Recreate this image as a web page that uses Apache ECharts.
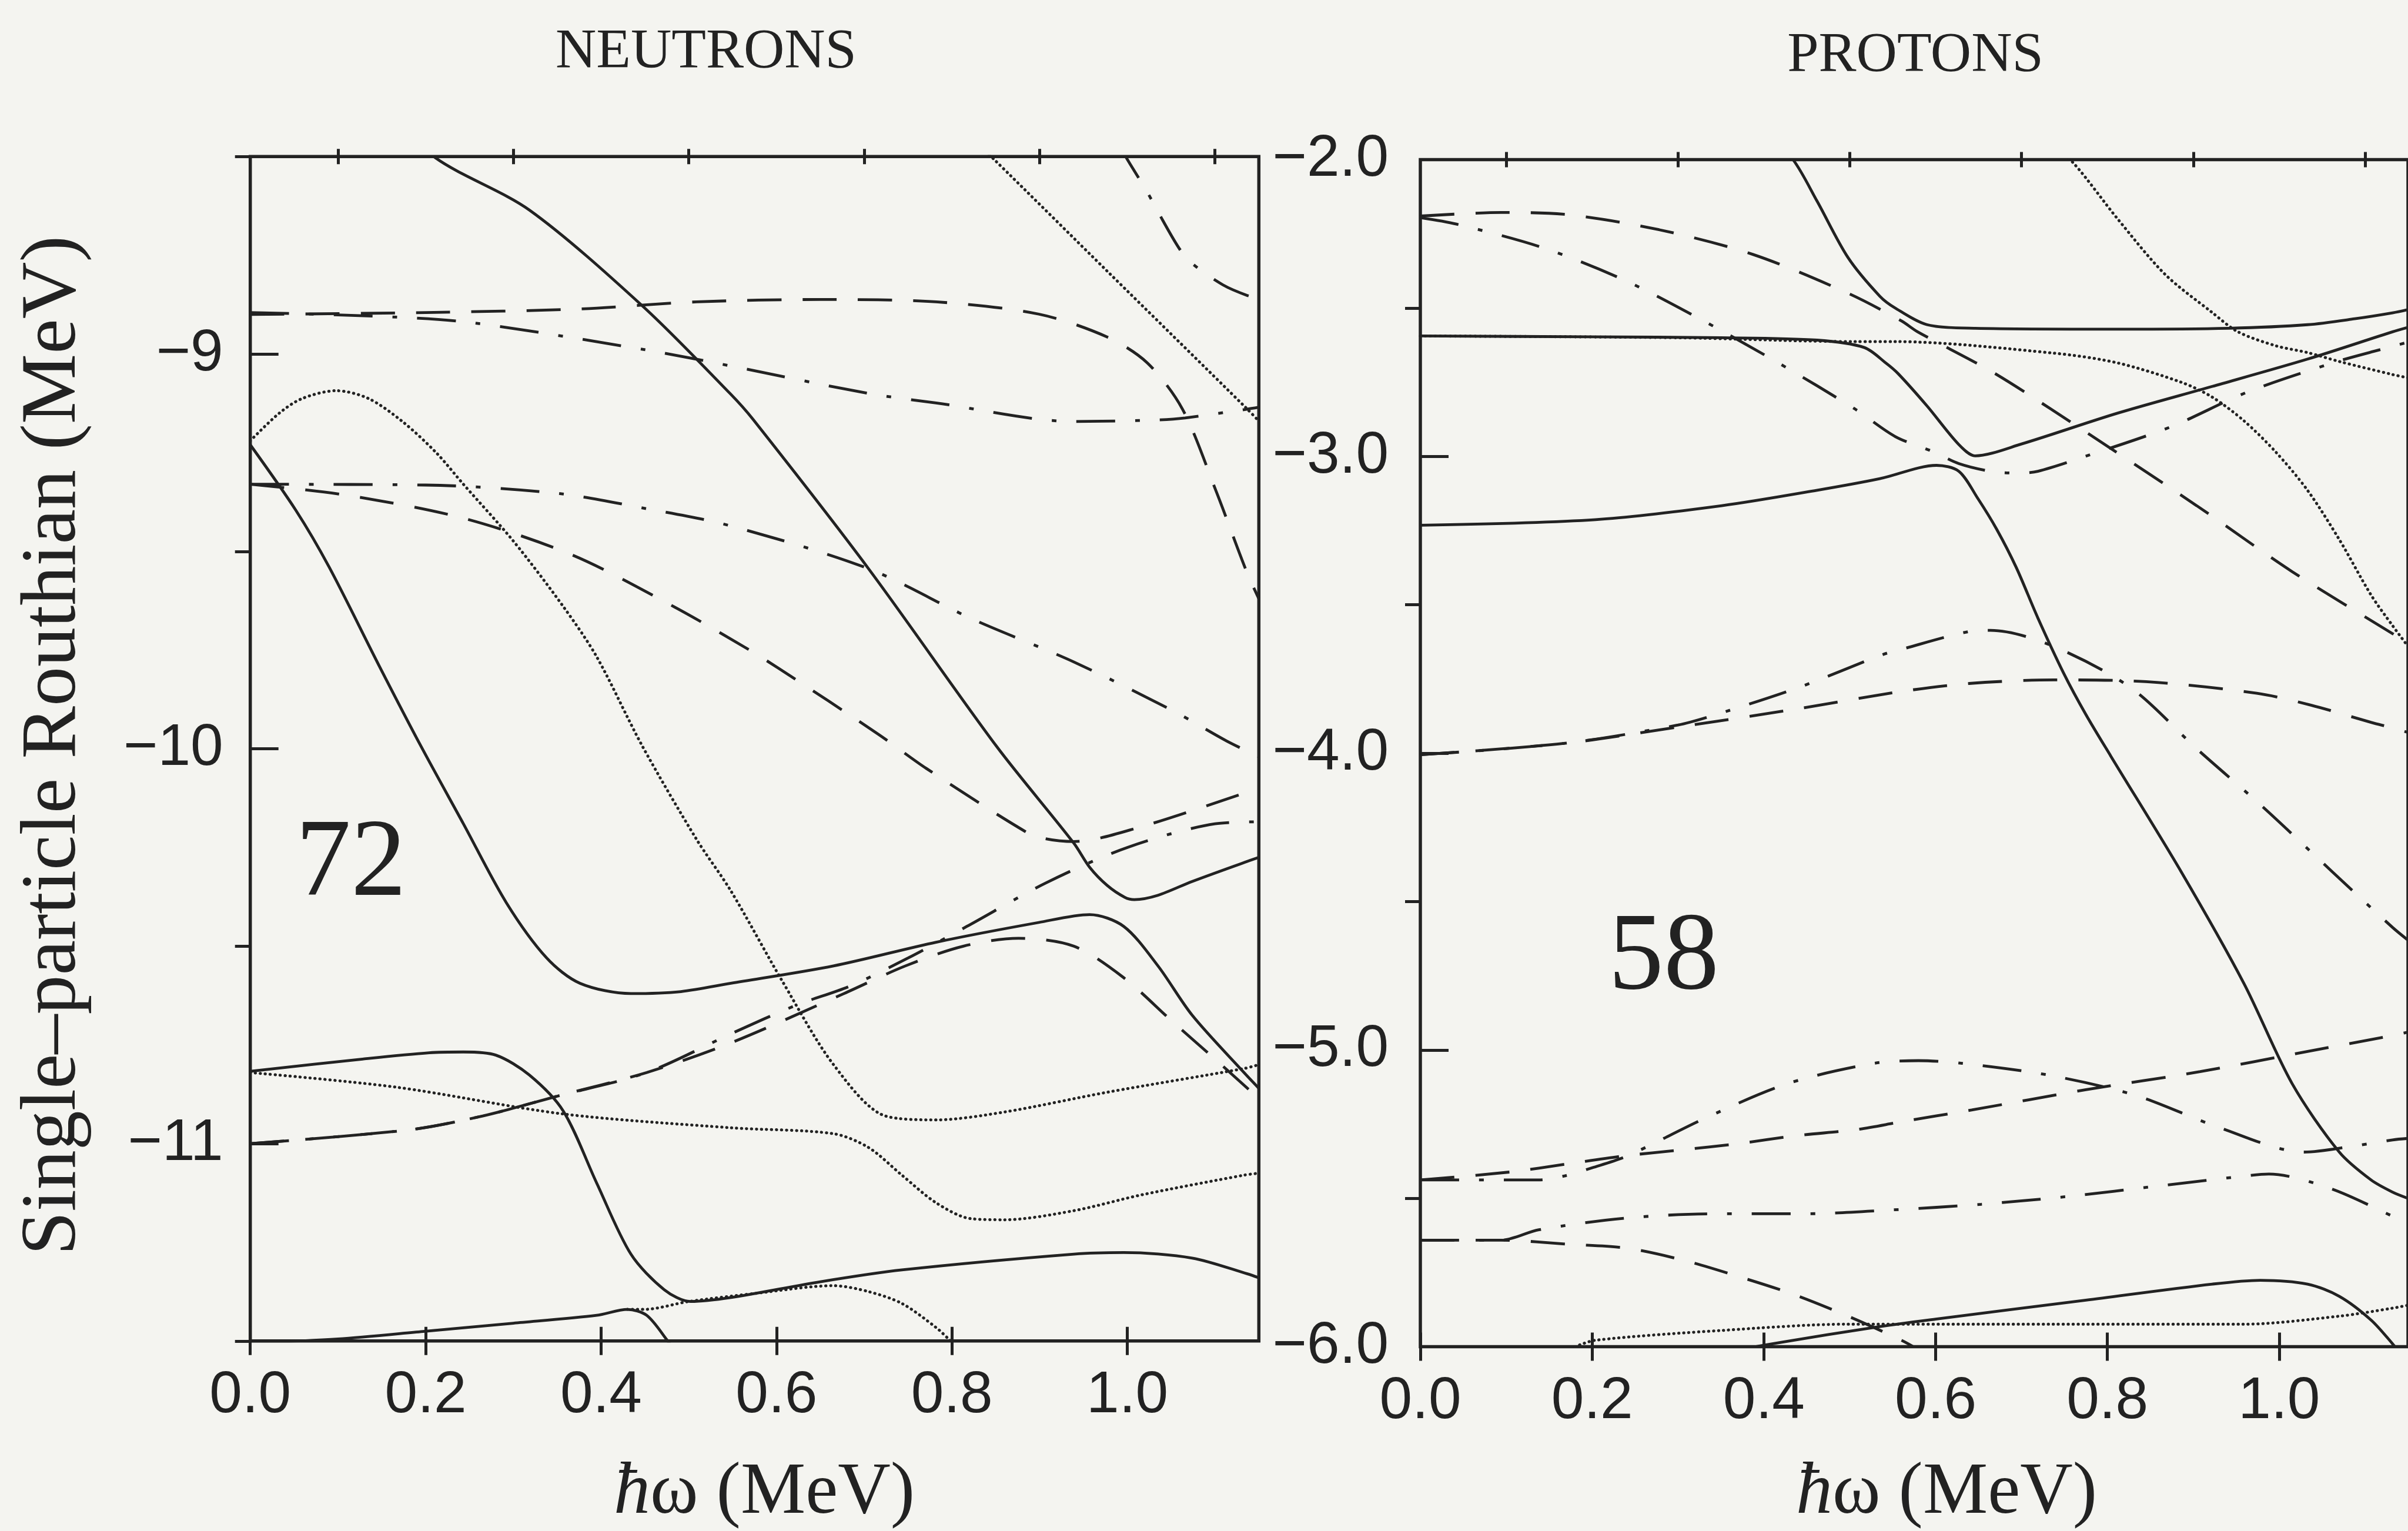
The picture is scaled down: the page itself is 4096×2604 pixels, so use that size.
<!DOCTYPE html>
<html>
<head>
<meta charset="utf-8">
<script src="https://cdn.jsdelivr.net/npm/echarts@6/dist/echarts.min.js"></script>
<style>
  html, body { margin: 0; padding: 0; background: #f4f4f0; }
  #chart { width: 4096px; height: 2604px; }
</style>
</head>
<body>
<div id="chart"></div>
<script>
// tick values
const xMajor = [0, 0.2, 0.4, 0.6, 0.8, 1.0]
const xMinor = [0.1, 0.3, 0.5, 0.7, 0.9, 1.1]
const nYMajor = [-11, -10, -9]
const nYMinor = [-11.5, -10.5, -9.5, -8.5]
const pYMajor = [-6, -5, -4, -3, -2]
const pYMinor = [-5.5, -4.5, -3.5, -2.5]

// neutron routhians [hw, e']
const nSolidA = [[0.17, -8.40], [0.211, -8.503], [0.318, -8.635], [0.448, -8.88], [0.547, -9.10], [0.573, -9.165], [0.705, -9.544], [0.851, -9.994], [0.939, -10.239], [0.957, -10.30], [0.977, -10.346], [0.997, -10.376], [1.008, -10.382], [1.035, -10.371], [1.074, -10.336], [1.137, -10.285], [1.15, -10.275]]
const nSolidB = [[0, -10.817], [0.128, -10.786], [0.204, -10.77], [0.243, -10.768], [0.28, -10.776], [0.318, -10.826], [0.357, -10.918], [0.395, -11.10], [0.434, -11.28], [0.472, -11.37], [0.502, -11.40], [0.548, -11.39], [0.65, -11.35], [0.743, -11.32], [0.939, -11.28], [0.996, -11.276], [1.074, -11.29], [1.137, -11.33], [1.15, -11.34]]
const nSolidC = [[0, -9.23], [0.052, -9.396], [0.09, -9.54], [0.147, -9.79], [0.195, -9.995], [0.243, -10.19], [0.292, -10.39], [0.338, -10.53], [0.376, -10.594], [0.434, -10.62], [0.491, -10.615], [0.548, -10.594], [0.665, -10.55], [0.782, -10.49], [0.899, -10.44], [0.957, -10.42], [0.996, -10.45], [1.035, -10.55], [1.074, -10.675], [1.133, -10.82], [1.15, -10.86]]
const nSolidD = [[0, -11.505], [0.1, -11.495], [0.197, -11.476], [0.3, -11.455], [0.395, -11.435], [0.43, -11.42], [0.452, -11.435], [0.475, -11.497], [0.485, -11.53]]
const nDashTop = [[0, -8.90], [0.2, -8.895], [0.376, -8.886], [0.509, -8.868], [0.65, -8.862], [0.782, -8.868], [0.899, -8.899], [0.977, -8.957], [1.023, -9.023], [1.063, -9.14], [1.101, -9.346], [1.136, -9.551], [1.15, -9.62]]
const nDashMid = [[0, -9.33], [0.108, -9.357], [0.243, -9.416], [0.368, -9.51], [0.483, -9.64], [0.564, -9.743], [0.603, -9.797], [0.716, -9.963], [0.771, -10.05], [0.884, -10.21], [0.907, -10.228], [0.939, -10.235], [1.012, -10.20], [1.137, -10.11], [1.15, -10.10]]
const nDashLow = [[0, -11.0], [0.182, -10.965], [0.265, -10.93], [0.35, -10.88], [0.452, -10.82], [0.548, -10.745], [0.677, -10.62], [0.747, -10.55], [0.813, -10.50], [0.876, -10.48], [0.939, -10.50], [0.996, -10.58], [1.051, -10.69], [1.102, -10.79], [1.137, -10.86], [1.15, -10.885]]
const nDashDotTop = [[0, -8.895], [0.15, -8.905], [0.25, -8.92], [0.452, -8.99], [0.547, -9.03], [0.705, -9.10], [0.782, -9.124], [0.939, -9.171], [1.035, -9.167], [1.066, -9.162], [1.136, -9.14], [1.15, -9.135]]
const nDashDotCorner = [[0.99, -8.47], [1.003, -8.518], [1.024, -8.595], [1.035, -8.64], [1.059, -8.732], [1.074, -8.771], [1.109, -8.825], [1.137, -8.852], [1.15, -8.858]]
const nDashDotMid = [[0, -9.33], [0.2, -9.332], [0.35, -9.353], [0.452, -9.392], [0.547, -9.435], [0.705, -9.544], [0.822, -9.67], [0.939, -9.78], [1.054, -9.906], [1.113, -9.98], [1.15, -10.02]]
const nDashDotRise = [[0, -11.0], [0.182, -10.965], [0.265, -10.93], [0.35, -10.88], [0.452, -10.82], [0.55, -10.72], [0.622, -10.65], [0.685, -10.60], [0.75, -10.53], [0.817, -10.45], [0.907, -10.34], [1.0, -10.25], [1.10, -10.19], [1.15, -10.185]]
const nDotLine = [[0.83, -8.47], [0.848, -8.507], [0.977, -8.79], [1.137, -9.14], [1.15, -9.17]]
const nDotHump = [[0, -9.22], [0.033, -9.15], [0.059, -9.113], [0.098, -9.093], [0.135, -9.113], [0.174, -9.172], [0.212, -9.25], [0.243, -9.33], [0.30, -9.474], [0.357, -9.64], [0.395, -9.767], [0.447, -9.993], [0.509, -10.23], [0.548, -10.36], [0.607, -10.59], [0.665, -10.80], [0.724, -10.93], [0.782, -10.94], [0.86, -10.92], [0.977, -10.87], [1.133, -10.81], [1.15, -10.80]]
const nDotMid = [[0, -10.82], [0.166, -10.857], [0.357, -10.925], [0.548, -10.96], [0.665, -10.975], [0.705, -11.01], [0.743, -11.08], [0.782, -11.15], [0.821, -11.19], [0.86, -11.193], [0.939, -11.17], [1.016, -11.13], [1.133, -11.08], [1.15, -11.075]]
const nDotLow = [[0.43, -11.42], [0.449, -11.42], [0.5, -11.40], [0.574, -11.38], [0.665, -11.36], [0.705, -11.375], [0.743, -11.405], [0.782, -11.466], [0.797, -11.497], [0.81, -11.53]]

// proton routhians [hw, e']
const pSolidTop = [[0.42, -1.98], [0.434, -2.0], [0.462, -2.14], [0.498, -2.33], [0.535, -2.46], [0.553, -2.50], [0.59, -2.556], [0.646, -2.568], [0.812, -2.571], [0.941, -2.568], [1.033, -2.556], [1.088, -2.536], [1.132, -2.516], [1.15, -2.505]]
const pSolidFlat = [[0, -2.594], [0.2, -2.597], [0.35, -2.60], [0.462, -2.608], [0.517, -2.633], [0.542, -2.685], [0.556, -2.72], [0.59, -2.83], [0.627, -2.96], [0.646, -2.998], [0.70, -2.958], [0.812, -2.854], [0.922, -2.764], [1.033, -2.672], [1.132, -2.58], [1.15, -2.565]]
const pSolidLow = [[0, -3.232], [0.204, -3.213], [0.351, -3.166], [0.462, -3.114], [0.535, -3.075], [0.601, -3.03], [0.627, -3.05], [0.649, -3.141], [0.671, -3.245], [0.694, -3.375], [0.719, -3.544], [0.749, -3.73], [0.775, -3.87], [0.804, -4.01], [0.886, -4.40], [0.959, -4.776], [1.015, -5.113], [1.07, -5.344], [1.107, -5.438], [1.132, -5.479], [1.15, -5.50]]
const pSolidBottom = [[0.38, -6.005], [0.42, -5.985], [0.528, -5.935], [0.6, -5.907], [0.775, -5.843], [0.922, -5.789], [0.978, -5.776], [1.033, -5.789], [1.07, -5.83], [1.107, -5.91], [1.132, -5.99], [1.14, -6.02]]
const pDashTop = [[0, -2.19], [0.094, -2.178], [0.167, -2.184], [0.278, -2.236], [0.388, -2.32], [0.498, -2.45], [0.56, -2.543], [0.579, -2.58], [0.664, -2.712], [0.734, -2.84], [0.904, -3.166], [1.015, -3.388], [1.132, -3.597], [1.15, -3.63]]
const pDashMid = [[0, -4.005], [0.167, -3.967], [0.307, -3.909], [0.44, -3.85], [0.56, -3.792], [0.639, -3.765], [0.738, -3.753], [0.845, -3.759], [0.974, -3.798], [1.037, -3.838], [1.107, -3.896], [1.132, -3.915], [1.15, -3.93]]
const pDashRise = [[0, -5.438], [0.105, -5.411], [0.171, -5.384], [0.237, -5.357], [0.303, -5.337], [0.369, -5.316], [0.44, -5.288], [0.506, -5.269], [0.56, -5.242], [0.642, -5.202], [0.775, -5.134], [0.908, -5.073], [1.033, -5.005], [1.132, -4.951], [1.15, -4.94]]
const pDashLow = [[0, -5.641], [0.094, -5.641], [0.175, -5.655], [0.241, -5.668], [0.307, -5.709], [0.369, -5.762], [0.435, -5.824], [0.498, -5.897], [0.56, -5.978], [0.58, -6.01]]
const pDashDotTop = [[0, -2.195], [0.042, -2.217], [0.141, -2.295], [0.237, -2.405], [0.329, -2.542], [0.417, -2.685], [0.506, -2.84], [0.553, -2.933], [0.598, -2.985], [0.627, -3.024], [0.664, -3.05], [0.694, -3.056], [0.719, -3.05], [0.775, -2.999], [0.874, -2.90], [0.963, -2.783], [1.062, -2.685], [1.11, -2.646], [1.15, -2.615]]
const pDashDotHump = [[0, -4.005], [0.167, -3.967], [0.3, -3.905], [0.344, -3.87], [0.44, -3.779], [0.538, -3.668], [0.56, -3.65], [0.639, -3.59], [0.664, -3.586], [0.734, -3.636], [0.827, -3.779], [0.904, -3.985], [0.981, -4.181], [1.062, -4.40], [1.132, -4.587], [1.15, -4.63]]
const pDashDotLow = [[0, -5.438], [0.138, -5.438], [0.167, -5.425], [0.20, -5.397], [0.241, -5.357], [0.333, -5.228], [0.428, -5.113], [0.528, -5.045], [0.58, -5.036], [0.631, -5.045], [0.734, -5.086], [0.834, -5.154], [0.93, -5.261], [1.029, -5.344], [1.088, -5.323], [1.132, -5.303], [1.15, -5.298]]
const pDashDotFlat = [[0, -5.641], [0.094, -5.641], [0.138, -5.606], [0.241, -5.566], [0.344, -5.552], [0.447, -5.552], [0.549, -5.539], [0.653, -5.52], [0.756, -5.493], [0.86, -5.458], [0.959, -5.425], [0.988, -5.418], [1.059, -5.466], [1.132, -5.56], [1.15, -5.585]]
const pDotFlat = [[0, -2.594], [0.3, -2.60], [0.506, -2.613], [0.553, -2.613], [0.738, -2.652], [0.812, -2.685], [0.886, -2.75], [0.922, -2.80], [0.959, -2.88], [0.996, -2.985], [1.033, -3.114], [1.07, -3.28], [1.107, -3.467], [1.132, -3.57], [1.15, -3.64]]
const pDotTop = [[0.74, -1.97], [0.76, -2.01], [0.812, -2.20], [0.867, -2.386], [0.922, -2.515], [0.952, -2.58], [0.996, -2.627], [1.033, -2.65], [1.07, -2.68], [1.132, -2.724], [1.15, -2.735]]
const pDotBottom = [[0.18, -6.0], [0.204, -5.978], [0.351, -5.945], [0.498, -5.924], [0.775, -5.924], [0.959, -5.924], [1.07, -5.897], [1.132, -5.87], [1.15, -5.86]]

const ink = '#222'
const styles = {
  solid: { type: 'solid', width: 4.8 },
  dash: { type: [58, 36], width: 4.8 },
  dashDot: { type: [66, 34, 8, 34], width: 4.8 },
  dot: { type: [0.5, 8], width: 5, cap: 'round' }
}

function curve(data, style, panel) {
  return {
    type: 'line',
    xAxisIndex: panel * 2,
    yAxisIndex: panel * 2,
    data: data,
    showSymbol: false,
    symbol: 'none',
    smooth: 0.3,
    silent: true,
    clip: true,
    lineStyle: Object.assign({ color: ink }, styles[style])
  }
}

const tickLine = { color: ink, width: 5 }
const serif = '"Liberation Serif", "Times New Roman", serif'
const sans = '"Liberation Sans", Arial, sans-serif'

function xAxes(grid) {
  return [{
    type: 'value', gridIndex: grid, min: 0, max: 1.15, offset: 24,
    axisLine: { show: false },
    axisTick: { inside: true, length: 48, customValues: xMajor, lineStyle: tickLine },
    axisLabel: { customValues: xMajor, margin: 20, fontSize: 100, fontFamily: sans, color: ink,
      formatter: v => v.toFixed(1) },
    splitLine: { show: false }
  }, {
    type: 'value', gridIndex: grid, min: 0, max: 1.15, offset: 13,
    axisLine: { show: false },
    axisTick: { inside: true, length: 26, customValues: xMinor, lineStyle: tickLine },
    axisLabel: { show: false },
    splitLine: { show: false }
  }]
}

function yAxes(grid, min, max, major, minor, margin, digits) {
  return [{
    type: 'value', gridIndex: grid, min: min, max: max, offset: 24,
    axisLine: { show: false },
    axisTick: { inside: true, length: 48, customValues: major, lineStyle: tickLine },
    axisLabel: { customValues: major, margin: margin, fontSize: 100, fontFamily: sans, color: ink,
      formatter: v => '\u2212' + Math.abs(v).toFixed(digits) },
    splitLine: { show: false }
  }, {
    type: 'value', gridIndex: grid, min: min, max: max, offset: 13,
    axisLine: { show: false },
    axisTick: { inside: true, length: 26, customValues: minor, lineStyle: tickLine },
    axisLabel: { show: false },
    splitLine: { show: false }
  }]
}

function label(text, x, y, size, extra) {
  return Object.assign({
    type: 'text', x: x, y: y, silent: true,
    style: { text: text, fill: ink, font: size + 'px ' + serif, align: 'center', verticalAlign: 'middle' }
  }, extra || {})
}

function axisName(x) {
  return {
    type: 'text', x: x, y: 2540, silent: true,
    style: { text: '{i|\u0127}\u03c9 (MeV)', fill: ink, font: '124px ' + serif, align: 'center', verticalAlign: 'middle',
      rich: { i: { fontStyle: 'italic', fontSize: 124, fontFamily: serif } } }
  }
}

const chart = echarts.init(document.getElementById('chart'))

chart.setOption({
  backgroundColor: '#f4f4f0',
  animation: false,
  grid: [
    { left: 425.7, top: 266.3, width: 1715.6, height: 2014.5, show: true, borderColor: ink, borderWidth: 5.5, backgroundColor: 'transparent' },
    { left: 2416, top: 271.6, width: 1706, height: 2019, show: true, borderColor: ink, borderWidth: 5.5, backgroundColor: 'transparent' }
  ],
  xAxis: xAxes(0).concat(xAxes(1)),
  yAxis: yAxes(0, -11.5, -8.5, nYMajor, nYMinor, 22, 0).concat(yAxes(1, -6, -2, pYMajor, pYMinor, 30, 1)),
  graphic: [
    label('NEUTRONS', 1201, 90, 96),
    label('PROTONS', 3258, 96, 96),
    label('72', 597, 1473, 188),
    label('58', 2830, 1632, 188),
    label('Single\u2013particle Routhian (MeV)', 92, 1268, 134, { rotation: Math.PI / 2 }),
    axisName(1300),
    axisName(3311)
  ],
  series: [
    curve(nSolidA, 'solid', 0),
    curve(nSolidB, 'solid', 0),
    curve(nSolidC, 'solid', 0),
    curve(nSolidD, 'solid', 0),
    curve(nDashTop, 'dash', 0),
    curve(nDashMid, 'dash', 0),
    curve(nDashLow, 'dash', 0),
    curve(nDashDotTop, 'dashDot', 0),
    curve(nDashDotCorner, 'dashDot', 0),
    curve(nDashDotMid, 'dashDot', 0),
    curve(nDashDotRise, 'dashDot', 0),
    curve(nDotLine, 'dot', 0),
    curve(nDotHump, 'dot', 0),
    curve(nDotMid, 'dot', 0),
    curve(nDotLow, 'dot', 0),
    curve(pSolidTop, 'solid', 1),
    curve(pSolidFlat, 'solid', 1),
    curve(pSolidLow, 'solid', 1),
    curve(pSolidBottom, 'solid', 1),
    curve(pDashTop, 'dash', 1),
    curve(pDashMid, 'dash', 1),
    curve(pDashRise, 'dash', 1),
    curve(pDashLow, 'dash', 1),
    curve(pDashDotTop, 'dashDot', 1),
    curve(pDashDotHump, 'dashDot', 1),
    curve(pDashDotLow, 'dashDot', 1),
    curve(pDashDotFlat, 'dashDot', 1),
    curve(pDotFlat, 'dot', 1),
    curve(pDotTop, 'dot', 1),
    curve(pDotBottom, 'dot', 1)
  ]
})
</script>
</body>
</html>
